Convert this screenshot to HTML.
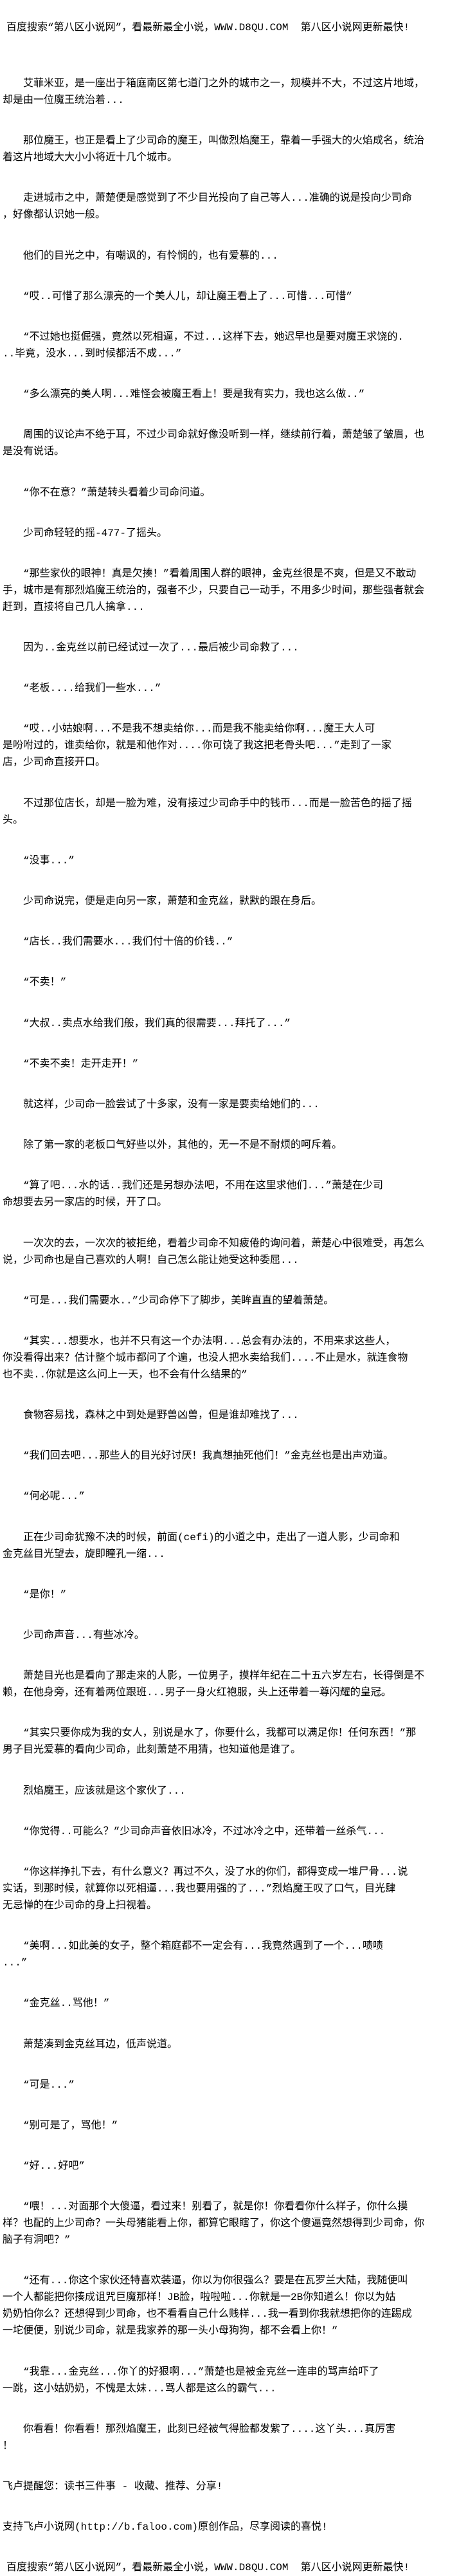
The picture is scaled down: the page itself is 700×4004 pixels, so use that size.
<!DOCTYPE html>
<html><head><meta charset="utf-8">
<style>
html,body{margin:0;padding:0;background:#fff;}
body{width:700px;height:3980px;overflow:hidden;font-family:"Liberation Mono","Noto Sans CJK SC",monospace;font-size:16px;line-height:26px;color:#000;padding-top:30px;box-sizing:border-box;}
p{margin:37.2px 0 0 0;padding-left:4px;white-space:nowrap;}
p.h{padding-left:10px;margin-top:0;}
p.first{margin-top:61px;}
</style></head><body>
<p class="h">百度搜索“第八区小说网”，看最新最全小说，WWW.D8QU.COM&nbsp;&nbsp;第八区小说网更新最快!</p>
<p class="first">　　艾菲米亚，是一座出于箱庭南区第七道门之外的城市之一，规模并不大，不过这片地域，<br>却是由一位魔王统治着...</p>
<p>　　那位魔王，也正是看上了少司命的魔王，叫做烈焰魔王，靠着一手强大的火焰成名，统治<br>着这片地域大大小小将近十几个城市。</p>
<p>　　走进城市之中，萧楚便是感觉到了不少目光投向了自己等人...准确的说是投向少司命<br>，好像都认识她一般。</p>
<p>　　他们的目光之中，有嘲讽的，有怜悯的，也有爱慕的...</p>
<p>　　“哎..可惜了那么漂亮的一个美人儿，却让魔王看上了...可惜...可惜”</p>
<p>　　“不过她也挺倔强，竟然以死相逼，不过...这样下去，她迟早也是要对魔王求饶的.<br>..毕竟，没水...到时候都活不成...”</p>
<p>　　“多么漂亮的美人啊...难怪会被魔王看上！要是我有实力，我也这么做..”</p>
<p>　　周围的议论声不绝于耳，不过少司命就好像没听到一样，继续前行着，萧楚皱了皱眉，也<br>是没有说话。</p>
<p>　　“你不在意？”萧楚转头看着少司命问道。</p>
<p>　　少司命轻轻的摇-477-了摇头。</p>
<p>　　“那些家伙的眼神！真是欠揍！”看着周围人群的眼神，金克丝很是不爽，但是又不敢动<br>手，城市是有那烈焰魔王统治的，强者不少，只要自己一动手，不用多少时间，那些强者就会<br>赶到，直接将自己几人擒拿...</p>
<p>　　因为..金克丝以前已经试过一次了...最后被少司命救了...</p>
<p>　　“老板....给我们一些水...”</p>
<p>　　“哎..小姑娘啊...不是我不想卖给你...而是我不能卖给你啊...魔王大人可<br>是吩咐过的，谁卖给你，就是和他作对....你可饶了我这把老骨头吧...”走到了一家<br>店，少司命直接开口。</p>
<p>　　不过那位店长，却是一脸为难，没有接过少司命手中的钱币...而是一脸苦色的摇了摇<br>头。</p>
<p>　　“没事...”</p>
<p>　　少司命说完，便是走向另一家，萧楚和金克丝，默默的跟在身后。</p>
<p>　　“店长..我们需要水...我们付十倍的价钱..”</p>
<p>　　“不卖！”</p>
<p>　　“大叔..卖点水给我们般，我们真的很需要...拜托了...”</p>
<p>　　“不卖不卖！走开走开！”</p>
<p>　　就这样，少司命一脸尝试了十多家，没有一家是要卖给她们的...</p>
<p>　　除了第一家的老板口气好些以外，其他的，无一不是不耐烦的呵斥着。</p>
<p>　　“算了吧...水的话..我们还是另想办法吧，不用在这里求他们...”萧楚在少司<br>命想要去另一家店的时候，开了口。</p>
<p>　　一次次的去，一次次的被拒绝，看着少司命不知疲倦的询问着，萧楚心中很难受，再怎么<br>说，少司命也是自己喜欢的人啊！自己怎么能让她受这种委屈...</p>
<p>　　“可是...我们需要水..”少司命停下了脚步，美眸直直的望着萧楚。</p>
<p>　　“其实...想要水，也并不只有这一个办法啊...总会有办法的，不用来求这些人，<br>你没看得出来？估计整个城市都问了个遍，也没人把水卖给我们....不止是水，就连食物<br>也不卖..你就是这么问上一天，也不会有什么结果的”</p>
<p>　　食物容易找，森林之中到处是野兽凶兽，但是谁却难找了...</p>
<p>　　“我们回去吧...那些人的目光好讨厌！我真想抽死他们！”金克丝也是出声劝道。</p>
<p>　　“何必呢...”</p>
<p>　　正在少司命犹豫不决的时候，前面(cefi)的小道之中，走出了一道人影，少司命和<br>金克丝目光望去，旋即瞳孔一缩...</p>
<p>　　“是你！”</p>
<p>　　少司命声音...有些冰冷。</p>
<p>　　萧楚目光也是看向了那走来的人影，一位男子，摸样年纪在二十五六岁左右，长得倒是不<br>赖，在他身旁，还有着两位跟班...男子一身火红袍服，头上还带着一尊闪耀的皇冠。</p>
<p>　　“其实只要你成为我的女人，别说是水了，你要什么，我都可以满足你！任何东西！”那<br>男子目光爱慕的看向少司命，此刻萧楚不用猜，也知道他是谁了。</p>
<p>　　烈焰魔王，应该就是这个家伙了...</p>
<p>　　“你觉得..可能么？”少司命声音依旧冰冷，不过冰冷之中，还带着一丝杀气...</p>
<p>　　“你这样挣扎下去，有什么意义？再过不久，没了水的你们，都得变成一堆尸骨...说<br>实话，到那时候，就算你以死相逼...我也要用强的了...”烈焰魔王叹了口气，目光肆<br>无忌惮的在少司命的身上扫视着。</p>
<p>　　“美啊...如此美的女子，整个箱庭都不一定会有...我竟然遇到了一个...啧啧<br>...”</p>
<p>　　“金克丝..骂他！”</p>
<p>　　萧楚凑到金克丝耳边，低声说道。</p>
<p>　　“可是...”</p>
<p>　　“别可是了，骂他！”</p>
<p>　　“好...好吧”</p>
<p>　　“喂！...对面那个大傻逼，看过来！别看了，就是你！你看看你什么样子，你什么摸<br>样？也配的上少司命？一头母猪能看上你，都算它眼瞎了，你这个傻逼竟然想得到少司命，你<br>脑子有洞吧？”</p>
<p>　　“还有...你这个家伙还特喜欢装逼，你以为你很强么？要是在瓦罗兰大陆，我随便叫<br>一个人都能把你揍成诅咒巨魔那样！JB脸，啦啦啦...你就是一2B你知道么！你以为姑<br>奶奶怕你么？还想得到少司命，也不看看自己什么贱样...我一看到你我就想把你的连踢成<br>一坨便便，别说少司命，就是我家养的那一头小母狗狗，都不会看上你！”</p>
<p>　　“我靠...金克丝...你丫的好狠啊...”萧楚也是被金克丝一连串的骂声给吓了<br>一跳，这小姑奶奶，不愧是太妹...骂人都是这么的霸气...</p>
<p>　　你看看！你看看！那烈焰魔王，此刻已经被气得脸都发紫了....这丫头...真厉害<br>！</p>
<p>飞卢提醒您：读书三件事 - 收藏、推荐、分享!</p>
<p>支持飞卢小说网(http://b.faloo.com)原创作品，尽享阅读的喜悦!</p>
<p style="padding-left:10px;">百度搜索“第八区小说网”，看最新最全小说，WWW.D8QU.COM&nbsp;&nbsp;第八区小说网更新最快!</p>
</body></html>
